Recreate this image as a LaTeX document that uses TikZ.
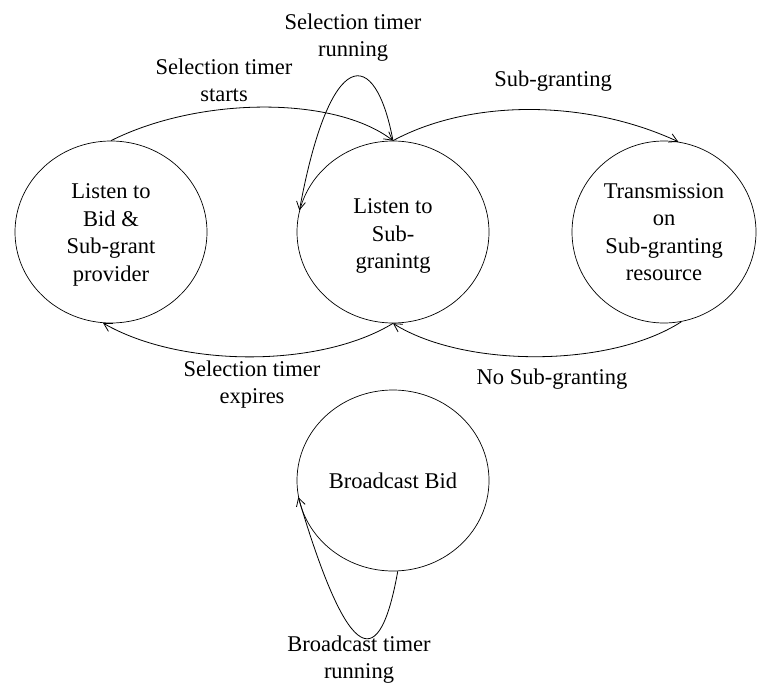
\documentclass[tikz,border=0pt]{standalone}
\usepackage{fontspec}
\setmainfont{Liberation Serif}
\usetikzlibrary{shapes.geometric,arrows.meta}
\begin{document}
\begin{tikzpicture}[x=1pt,y=-1pt,
  state/.style={draw,ellipse,inner sep=0pt,line width=0.7pt,align=center,
    font=\fontsize{22.5}{27.5}\selectfont},
  lbl/.style={align=center,inner sep=0pt,font=\fontsize{22.5}{27}\selectfont},
  stext/.style={align=center,inner sep=0pt,font=\fontsize{22.5}{27.5}\selectfont},
  conn/.style={line width=0.8pt,-{Straight Barb[length=8pt,width=9pt,line width=0.8pt]}}]
\useasboundingbox (0,0) rectangle (757,685);
\node[state,minimum width=192pt,minimum height=182pt] (L) at (111,232) {};
\node[stext] (Lt) at (111,235) {Listen to\\Bid \&\\Sub-grant\\provider};
\node[state,minimum width=192pt,minimum height=182pt] (M) at (393,232) {};
\node[stext] (Mt) at (393,236) {Listen to\\Sub-\\granintg};
\node[state,minimum width=184pt,minimum height=182pt] (R) at (664,232) {Transmission\\on\\Sub-granting\\resource};
\node[state,minimum width=192pt,minimum height=181pt] (B) at (393,480.5) {Broadcast Bid};
% edges
\draw[conn] (L.90) .. controls (200,96) and (335,96) .. (M.90);
\draw[conn] (M.90) .. controls (470,99) and (586,99) .. (R.81);
\draw[conn] (M.-90) .. controls (320,368) and (181,368) .. (L.-95);
\draw[conn] (R.-79) .. controls (610,368) and (464,368) .. (M.-90);
\draw[conn] (M.90) .. controls (375,45) and (330,45) .. (M.167);
\draw[conn] (B.-87) .. controls (380,671) and (350,671) .. (B.190);
% labels
\node[lbl] (l1) at (224,80) {Selection timer\\starts};
\node[lbl] (l2) at (353,38) {Selection timer\\running};
\node[lbl] (l3) at (553,81) {Sub-granting};
\node[lbl] (l4) at (252,385) {Selection timer\\expires};
\node[lbl] (l5) at (552,379) {No Sub-granting};
\node[lbl] (l6) at (359,660) {Broadcast timer\\running};
\end{tikzpicture}
\end{document}
